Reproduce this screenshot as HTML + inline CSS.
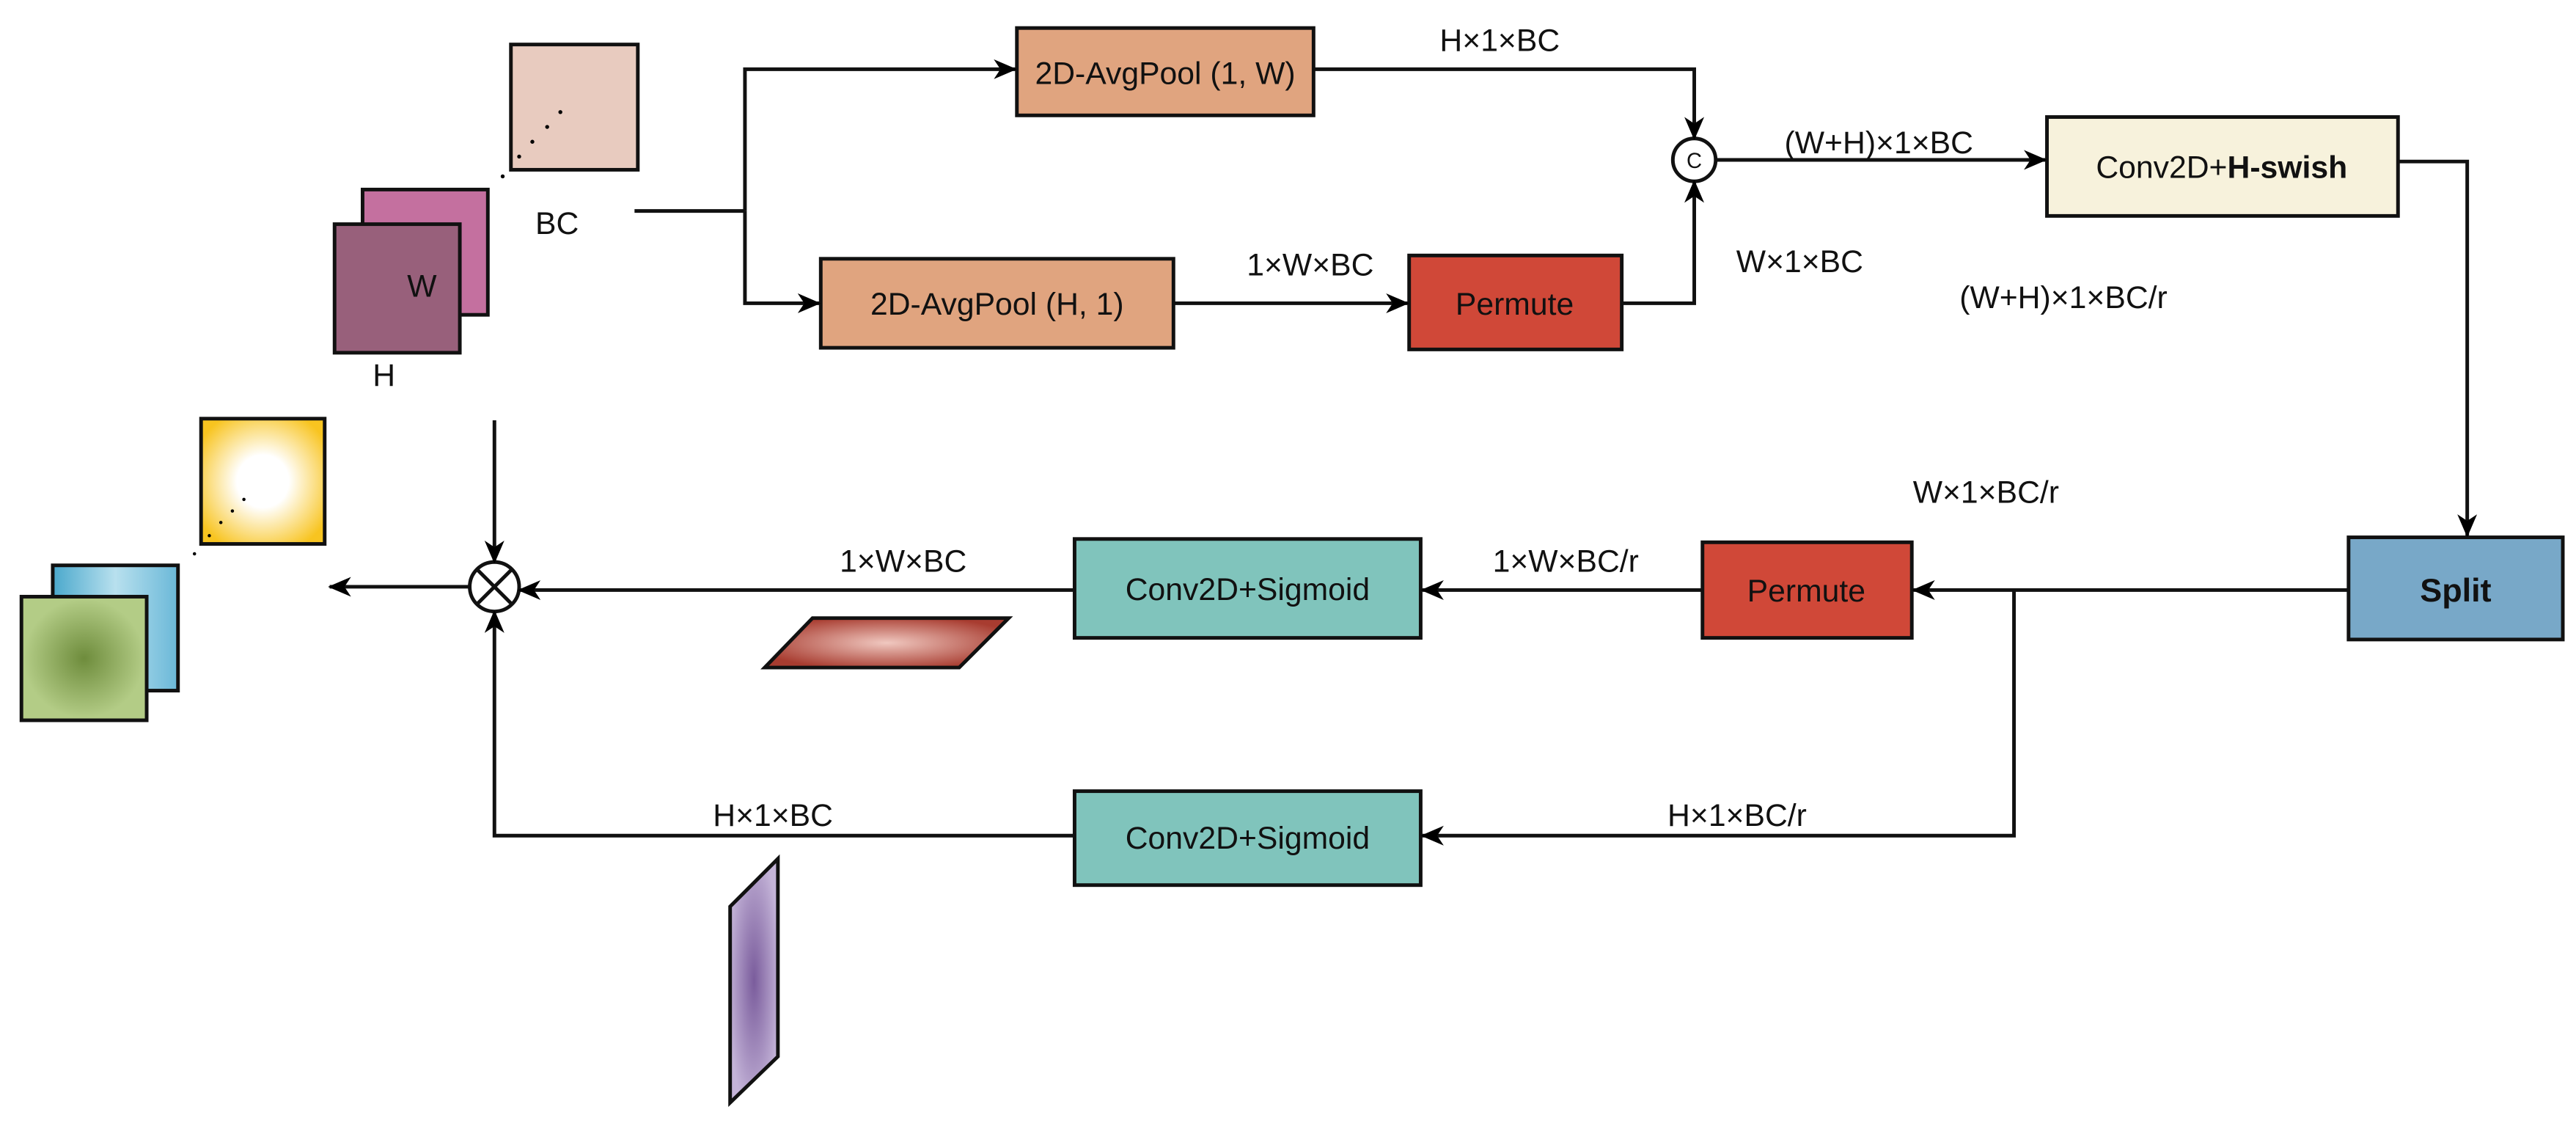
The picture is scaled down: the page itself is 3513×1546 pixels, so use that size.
<!DOCTYPE html>
<html><head><meta charset="utf-8"><style>html,body{margin:0;padding:0;background:#fff}svg{display:block}</style></head>
<body>
<svg width="3513" height="1546" viewBox="0 0 1563 688" preserveAspectRatio="none" xmlns="http://www.w3.org/2000/svg" font-family="Liberation Sans, sans-serif">
<defs>
<marker id="a" markerWidth="14" markerHeight="14" refX="13" refY="6" orient="auto" markerUnits="userSpaceOnUse"><path d="M0,0 L14,6 L0,12 L4,6 Z" fill="#000"/></marker>
<radialGradient id="gy" cx="0.5" cy="0.5" r="0.6"><stop offset="0.35" stop-color="#fff"/><stop offset="1" stop-color="#f8c420"/></radialGradient>
<radialGradient id="gg" cx="0.5" cy="0.5" r="0.6"><stop offset="0" stop-color="#6e8c3c"/><stop offset="0.8" stop-color="#b3cc86"/></radialGradient>
<linearGradient id="gb" x1="0" y1="0" x2="1" y2="0"><stop offset="0" stop-color="#4aa8cc"/><stop offset="0.5" stop-color="#b8e0ee"/><stop offset="1" stop-color="#6ab8d8"/></linearGradient>
<radialGradient id="gr" cx="0.5" cy="0.5" r="0.55"><stop offset="0" stop-color="#f0c8c0"/><stop offset="1" stop-color="#a83c30"/></radialGradient>
<radialGradient id="gp" cx="0.5" cy="0.5" r="0.55"><stop offset="0" stop-color="#7a5c9c"/><stop offset="1" stop-color="#c4b4d8"/></radialGradient>
</defs>
<g stroke="#111" stroke-width="2.2" fill="none">
<rect x="310" y="27" width="77" height="76" fill="#e8cbbf"/>
<rect x="220" y="115" width="76" height="76" fill="#c4709f"/>
<rect x="203" y="136" width="76" height="78" fill="#98607b"/>
<rect x="122" y="254" width="75" height="76" fill="url(#gy)"/>
<rect x="32" y="343" width="76" height="76" fill="url(#gb)"/>
<rect x="13" y="362" width="76" height="75" fill="url(#gg)"/>
<polygon points="493,375 612,375 582,405 464,405" fill="url(#gr)"/>
<polygon points="472,521 472,641 443,669 443,550" fill="url(#gp)"/>
<rect x="617" y="17" width="180" height="53" fill="#e0a47f"/>
<rect x="498" y="157" width="214" height="54" fill="#e0a47f"/>
<rect x="855" y="155" width="129" height="57" fill="#d04838"/>
<rect x="1242" y="71" width="213" height="60" fill="#f7f2dc"/>
<rect x="1425" y="326" width="130" height="62" fill="#78a8c8"/>
<rect x="1033" y="329" width="127" height="58" fill="#d04838"/>
<rect x="652" y="327" width="210" height="60" fill="#80c4bc"/>
<rect x="652" y="480" width="210" height="57" fill="#80c4bc"/>
<circle cx="1028" cy="97" r="13" fill="#fff"/>
<circle cx="300" cy="356" r="15" fill="#fff"/>
<path d="M289,345 L311,367 M311,345 L289,367"/>
<path d="M385,128 H452"/>
<path d="M452,128 V42 H616" marker-end="url(#a)"/>
<path d="M452,128 V184 H497" marker-end="url(#a)"/>
<path d="M797,42 H1028 V84" marker-end="url(#a)"/>
<path d="M712,184 H854" marker-end="url(#a)"/>
<path d="M984,184 H1028 V110" marker-end="url(#a)"/>
<path d="M1041,97 H1241" marker-end="url(#a)"/>
<path d="M1455,98 H1497 V325" marker-end="url(#a)"/>
<path d="M1425,358 H1161" marker-end="url(#a)"/>
<path d="M1222,358 V507 H863" marker-end="url(#a)"/>
<path d="M1033,358 H863" marker-end="url(#a)"/>
<path d="M652,358 H315" marker-end="url(#a)"/>
<path d="M652,507 H300 V371" marker-end="url(#a)"/>
<path d="M300,255 V341" marker-end="url(#a)"/>
<path d="M285,356 H200" marker-end="url(#a)"/>
</g>
<g fill="#000">
<circle cx="315" cy="95" r="1.2"/><circle cx="323" cy="86" r="1.2"/><circle cx="332" cy="77" r="1.2"/><circle cx="340" cy="68" r="1.2"/><circle cx="305" cy="107" r="1.2"/>
<circle cx="127" cy="325" r="1"/><circle cx="134" cy="317" r="1"/><circle cx="141" cy="310" r="1"/><circle cx="148" cy="303" r="1"/><circle cx="118" cy="336" r="1"/>
</g>
<g font-size="19" fill="#111" text-anchor="middle">
<text x="256" y="180">W</text>
<text x="233" y="234">H</text>
<text x="338" y="142">BC</text>
<text x="707" y="51">2D-AvgPool (1, W)</text>
<text x="605" y="191">2D-AvgPool (H, 1)</text>
<text x="919" y="191">Permute</text>
<text x="1348" y="108">Conv2D+<tspan font-weight="bold">H-swish</tspan></text>
<text x="1490" y="365" font-weight="bold" font-size="20">Split</text>
<text x="1096" y="365">Permute</text>
<text x="757" y="364">Conv2D+Sigmoid</text>
<text x="757" y="515">Conv2D+Sigmoid</text>
<text x="1028" y="102" font-size="13">C</text>
<text x="910" y="31">H×1×BC</text>
<text x="795" y="167">1×W×BC</text>
<text x="1092" y="165">W×1×BC</text>
<text x="1140" y="93">(W+H)×1×BC</text>
<text x="1252" y="187">(W+H)×1×BC/r</text>
<text x="1205" y="305">W×1×BC/r</text>
<text x="950" y="347">1×W×BC/r</text>
<text x="548" y="347">1×W×BC</text>
<text x="1054" y="501">H×1×BC/r</text>
<text x="469" y="501">H×1×BC</text>
</g>
</svg>
</body></html>
